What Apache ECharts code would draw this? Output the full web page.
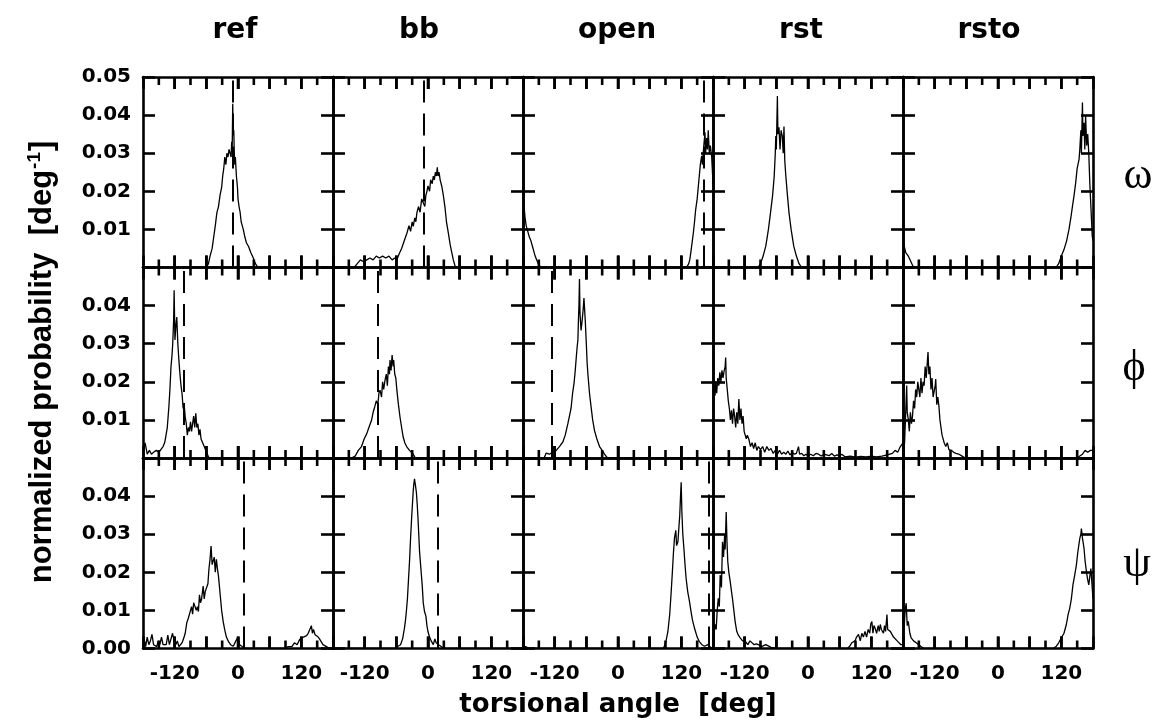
<!DOCTYPE html>
<html><head><meta charset="utf-8">
<script src="https://cdn.jsdelivr.net/npm/echarts@6/dist/echarts.min.js"></script>
<style>html,body{margin:0;padding:0;background:#fff}#c{width:1162px;height:728px}</style>
</head><body><div id="c"></div><script>
// ---------------- data ----------------
const columns = ['ref', 'bb', 'open', 'rst', 'rsto'];
const rowSymbols = ['\u03C9', '\u03D5', '\u03C8'];
const xTickLabels = [-120, 0, 120];
const xMajorTicks = [-120, -60, 0, 60, 120];
const xMinorTicks = [-150, -90, -30, 30, 90, 150];
const yTickLabels = [0.00, 0.01, 0.02, 0.03, 0.04, 0.05];
const xAxisName = 'torsional angle  [deg]';
const yAxisName = 'normalized probability  [deg';

// reference angles (dashed lines); null = none
const dashOmega = [-10, -9, 162, null, null];
const dashPhi = [-102, -95, -125, null, null];
const dashPsi = [10, 19, 172, null, null];

// omega row
const omega_ref = [[-180,0],[-60,0],[-56,0.001],[-53,0.003],[-49,0.005],[-46,0.008],[-43,0.011],[-40,0.0144],[-37,0.016],[-34,0.019],[-31,0.021],[-29,0.024],[-27,0.026],[-25,0.029],[-23,0.027],[-21,0.030],[-19,0.029],[-17,0.031],[-15,0.031],[-13,0.029],[-12,0.033],[-11,0.031],[-10,0.043],[-9,0.035],[-8,0.036],[-7,0.030],[-6,0.027],[-5,0.029],[-3,0.024],[-1,0.021],[0,0.018],[2,0.016],[4,0.0145],[6,0.012],[8,0.011],[10,0.010],[13,0.008],[16,0.0065],[20,0.0055],[24,0.004],[29,0.0025],[33,0.001],[38,0],[180,0]];
const omega_bb = [[-180,0],[-140,0],[-134,0.001],[-128,0.002],[-122,0.0015],[-116,0.002],[-110,0.0025],[-104,0.002],[-98,0.003],[-92,0.0025],[-86,0.003],[-80,0.0025],[-74,0.003],[-68,0.002],[-63,0.0025],[-59,0.002],[-55,0.0035],[-50,0.005],[-45,0.007],[-40,0.009],[-36,0.011],[-33,0.0095],[-30,0.012],[-28,0.0108],[-25,0.013],[-23,0.012],[-21,0.0144],[-18,0.016],[-15,0.0145],[-12,0.018],[-9,0.0175],[-6,0.016],[-4,0.019],[-2,0.020],[0,0.0214],[3,0.020],[5,0.023],[8,0.022],[10,0.024],[12,0.023],[14,0.025],[16,0.024],[17.6,0.0263],[19,0.024],[21,0.025],[23,0.023],[26,0.0214],[29,0.019],[32,0.016],[35,0.012],[38.5,0.0091],[42,0.006],[45,0.004],[48,0.002],[52,0],[180,0]];
const omega_open = [[-180,0.021],[-178,0.016],[-176,0.013],[-174,0.011],[-171,0.0095],[-168,0.008],[-165,0.007],[-162,0.0055],[-160,0.005],[-157,0.003],[-154,0.002],[-151,0.001],[-146,0],[130,0],[134,0.001],[136,0.002],[139,0.005],[142.7,0.009],[145,0.012],[147,0.015],[150,0.018],[152,0.021],[154,0.024],[156,0.027],[158.5,0.0293],[160,0.027],[162,0.031],[164.8,0.0355],[166,0.030],[168,0.034],[169.5,0.031],[171,0.036],[173,0.030],[175,0.032],[177.5,0.029],[179,0.025],[180,0.022]];
const omega_rst = [[-180,0],[-95,0],[-90,0.001],[-85,0.003],[-80,0.0056],[-75,0.010],[-71,0.0144],[-67,0.019],[-64,0.024],[-62,0.030],[-61,0.0345],[-60,0.031],[-59,0.038],[-58,0.045],[-57,0.035],[-55,0.0368],[-53,0.031],[-51,0.036],[-48.7,0.0345],[-47,0.030],[-45.5,0.037],[-44,0.028],[-42,0.024],[-39,0.019],[-36,0.0144],[-32,0.010],[-27,0.0056],[-22,0.003],[-17,0.001],[-12,0],[180,0]];
const omega_rsto = [[-180,0.007],[-175,0.004],[-170,0.003],[-165,0.0015],[-160,0],[110,0],[115,0.001],[120,0.003],[125,0.0047],[130,0.007],[134.5,0.010],[138,0.013],[141,0.016],[144,0.0188],[147,0.022],[150,0.026],[153.6,0.0284],[155,0.031],[157,0.036],[158,0.030],[160,0.0433],[161,0.0345],[163,0.038],[164.5,0.031],[166,0.0398],[168,0.032],[170,0.035],[172,0.030],[174,0.022],[176,0.016],[178.6,0.0082],[180,0.007]];

// phi row
const phi_ref = [[-180,0.001],[-176,0.004],[-172,0.001],[-168,0.002],[-164,0.001],[-160,0.0015],[-155,0.002],[-150,0.0015],[-147,0.002],[-142,0.003],[-139,0.004],[-137,0.0055],[-134,0.008],[-131,0.0134],[-129,0.018],[-127,0.0239],[-125,0.027],[-123.7,0.030],[-122,0.036],[-121,0.044],[-119.5,0.031],[-117.5,0.035],[-116,0.037],[-114,0.030],[-112,0.0257],[-110,0.022],[-108,0.019],[-106,0.0169],[-104,0.013],[-102,0.014],[-100,0.0107],[-98,0.009],[-96,0.006],[-94,0.008],[-92,0.007],[-90,0.0095],[-88,0.007],[-86,0.009],[-84,0.011],[-82,0.008],[-80,0.0117],[-78,0.008],[-76,0.009],[-74,0.006],[-72,0.0075],[-70,0.005],[-67,0.0055],[-64,0.003],[-61,0.002],[-58,0.001],[-55,0],[180,0]];
const phi_bb = [[-180,0],[-145,0],[-138,0.0005],[-132,0.002],[-126,0.003],[-121,0.005],[-116,0.0064],[-112,0.008],[-107,0.0099],[-104,0.012],[-101,0.0134],[-98,0.015],[-95,0.014],[-93,0.017],[-91,0.0178],[-88,0.016],[-86,0.020],[-84,0.018],[-81.5,0.0204],[-79,0.022],[-77,0.019],[-75,0.024],[-73,0.022],[-72,0.0257],[-70,0.023],[-68,0.027],[-66,0.024],[-65,0.0257],[-63,0.022],[-61,0.021],[-59,0.0178],[-56,0.014],[-53,0.0107],[-50,0.008],[-47,0.0055],[-44,0.004],[-40.5,0.003],[-35,0.002],[-28,0.001],[-24,0],[180,0]];
const phi_open = [[-180,0],[-140,0],[-136,0.0013],[-130,0.001],[-124,0.0015],[-117,0.002],[-111,0.003],[-104.5,0.0042],[-100,0.006],[-95,0.009],[-92,0.011],[-89,0.013],[-86,0.017],[-83,0.020],[-81,0.023],[-79,0.0265],[-77.5,0.029],[-76,0.031],[-75,0.036],[-74,0.040],[-73,0.047],[-72,0.038],[-70,0.0335],[-68,0.036],[-66,0.039],[-64.5,0.042],[-63.5,0.042],[-62,0.036],[-60,0.030],[-58.5,0.025],[-57,0.022],[-54,0.017],[-51,0.0134],[-48,0.010],[-44.5,0.0072],[-40,0.005],[-35,0.003],[-30,0.002],[-25.6,0.001],[-20,0],[180,0]];
const phi_rst = [[-180,0.012],[-178,0.018],[-176,0.0164],[-175,0.020],[-173,0.017],[-171,0.021],[-169,0.019],[-167,0.0225],[-165,0.020],[-163,0.023],[-161,0.021],[-159,0.0228],[-157,0.024],[-156,0.0264],[-155,0.021],[-153,0.018],[-151,0.015],[-149,0.013],[-147,0.010],[-145,0.0125],[-143,0.009],[-141,0.013],[-139,0.011],[-137,0.008],[-135,0.012],[-133,0.009],[-131,0.0155],[-129,0.010],[-127,0.013],[-125,0.009],[-123,0.011],[-121,0.007],[-119,0.0075],[-117,0.005],[-115,0.006],[-112,0.0049],[-109,0.003],[-106,0.004],[-103,0.0025],[-100,0.004],[-97,0.002],[-94,0.003],[-90,0.0022],[-86,0.003],[-82,0.0015],[-78,0.003],[-74,0.002],[-70,0.0025],[-66,0.0012],[-62,0.002],[-58,0.001],[-54,0.002],[-50,0.001],[-46,0.0015],[-42,0.001],[-38,0.0018],[-34,0.0008],[-30,0.0015],[-26,0.001],[-22,0.0012],[-18,0.003],[-16,0.001],[-12,0.0012],[-8,0.0006],[-4,0.001],[0,0.0005],[5,0.001],[10,0.0006],[15,0.0012],[20,0.001],[25,0.0005],[30,0.001],[35,0.0008],[40,0.0006],[45,0.0012],[50,0.0005],[55,0.0008],[60,0.0005],[64,0.001],[70,0.0003],[80,0.0005],[90,0.0002],[100,0.0004],[110,0.0003],[120,0.0005],[130,0.0003],[140,0.0005],[150,0.0008],[160,0.0012],[165,0.002],[170,0.0015],[175,0.003],[180,0.004]];
const phi_rsto = [[-180,0.002],[-177,0.004],[-175,0.004],[-173,0.019],[-172,0.012],[-170,0.0102],[-168,0.007],[-166,0.012],[-164,0.009],[-162,0.011],[-160,0.015],[-158,0.013],[-156,0.018],[-154,0.016],[-152,0.020],[-150,0.0199],[-148,0.016],[-146,0.021],[-144,0.017],[-142,0.020],[-140,0.019],[-138,0.024],[-136,0.021],[-134,0.025],[-132.6,0.0278],[-131,0.022],[-129,0.024],[-127,0.018],[-125,0.021],[-123,0.016],[-121,0.0164],[-119,0.019],[-118,0.0207],[-116,0.014],[-114,0.016],[-112,0.0137],[-110,0.010],[-108,0.008],[-106,0.006],[-104,0.005],[-102,0.004],[-99,0.003],[-96,0.004],[-93,0.0022],[-88,0.002],[-84,0.0015],[-80,0.0012],[-74,0.001],[-68,0.0005],[-62,0],[150,0],[155,0.0005],[160,0.001],[165,0.002],[170,0.0015],[175,0.002],[180,0.002]];

// psi row
const psi_ref = [[-180,0.001],[-177,0.002],[-175,0.0005],[-172,0.003],[-169,0.001],[-166,0.002],[-163,0.0037],[-160,0.001],[-157,0.0015],[-154,0.0005],[-151,0.002],[-148,0.001],[-145,0.003],[-142,0.001],[-139,0.0005],[-136,0.001],[-133,0.0035],[-130,0.001],[-127,0.0025],[-124,0.004],[-121,0.002],[-118,0.001],[-115,0.002],[-112,0.0005],[-109,0.001],[-106,0.0015],[-103.5,0.0024],[-100,0.004],[-97,0.0068],[-94,0.008],[-91,0.0095],[-88,0.011],[-86,0.009],[-84,0.012],[-81.5,0.0124],[-79,0.010],[-77,0.011],[-75,0.0097],[-73,0.0141],[-71,0.012],[-69,0.013],[-66,0.0164],[-64,0.013],[-62,0.015],[-60,0.0146],[-57,0.017],[-55,0.021],[-53,0.0234],[-51,0.0269],[-49,0.022],[-47,0.0216],[-45,0.024],[-43,0.020],[-41,0.0234],[-39,0.021],[-37,0.019],[-35,0.016],[-33,0.013],[-31,0.010],[-28,0.007],[-25,0.0048],[-22,0.003],[-18,0.0018],[-14,0.001],[-9,0.0006],[-4,0.002],[0,0.003],[3,0.001],[8,0.0005],[15,0],[90,0],[95,0.0005],[98,0.001],[102,0.0005],[107,0.0015],[112,0.001],[117,0.0024],[120,0.002],[124,0.003],[127,0.0025],[130,0.0034],[133,0.004],[136,0.0045],[139,0.006],[141,0.004],[143,0.005],[146,0.0036],[149,0.004],[152,0.003],[155,0.0024],[158,0.002],[161,0.001],[164.5,0.0006],[170,0.0003],[175,0],[180,0]];
const psi_bb = [[-180,0],[-60,0],[-57,0.0006],[-52,0.001],[-48,0.0026],[-45,0.005],[-43,0.007],[-41,0.0097],[-39,0.013],[-37,0.018],[-35,0.0229],[-33,0.029],[-31,0.0343],[-29,0.039],[-28,0.0413],[-27,0.043],[-25.6,0.0445],[-24,0.043],[-22,0.041],[-20.5,0.038],[-19,0.0343],[-17.5,0.030],[-16,0.0255],[-13.5,0.021],[-11,0.0167],[-9,0.012],[-6.6,0.0097],[-4,0.0085],[-2,0.006],[0,0.0044],[3,0.003],[6,0.002],[10,0.001],[13,0.0025],[15.5,0.0015],[20,0.001],[25,0.0005],[30,0],[180,0]];
const psi_open = [[-180,0],[-175,0.0005],[-168,0],[85,0],[88,0.0006],[91,0.002],[94.5,0.0044],[98,0.009],[100.8,0.0149],[103,0.020],[105,0.025],[107,0.029],[109.5,0.031],[111,0.027],[113.5,0.028],[115,0.031],[117,0.035],[118.5,0.040],[119.7,0.0436],[121,0.036],[122.8,0.030],[125,0.026],[127,0.022],[129,0.0185],[132,0.015],[135.5,0.0123],[138,0.010],[141,0.0075],[145,0.0053],[150,0.003],[154,0.0018],[159,0.001],[164,0.0006],[170,0.001],[175,0.0004],[180,0]];
const psi_rst = [[-180,0.001],[-178,0.0015],[-176,0.0063],[-174,0.005],[-172,0.010],[-170,0.0132],[-168,0.011],[-166.4,0.0193],[-164,0.016],[-162,0.028],[-160,0.024],[-158,0.0297],[-157,0.026],[-155,0.0358],[-153.5,0.028],[-152,0.0228],[-150,0.020],[-147.4,0.0176],[-145,0.015],[-143,0.013],[-141,0.0106],[-138,0.007],[-135,0.0045],[-132,0.0035],[-128.5,0.0028],[-124,0.002],[-119,0.0019],[-114,0.001],[-110,0.002],[-106.5,0.0015],[-102,0.001],[-98,0.0012],[-94,0.001],[-88,0.0005],[-80,0.001],[-70,0.0003],[-60,0],[75,0],[80,0.0008],[83,0.0015],[86,0.001],[89,0.002],[92,0.003],[95.7,0.0037],[99,0.002],[102,0.004],[105,0.003],[108,0.0045],[111,0.003],[114,0.005],[117,0.004],[119,0.0065],[121,0.0071],[123,0.004],[125,0.006],[127,0.0054],[130,0.004],[133,0.006],[135,0.0045],[137,0.0063],[139,0.005],[141,0.0055],[143,0.004],[145,0.006],[147,0.0045],[149.6,0.0089],[151,0.005],[153,0.0055],[156,0.0045],[159,0.004],[162,0.003],[165.7,0.0028],[169,0.002],[172,0.0015],[176,0.001],[180,0.001]];
const psi_rsto = [[-180,0.008],[-178,0.005],[-176,0.010],[-174,0.0119],[-172,0.006],[-170,0.0071],[-167,0.004],[-164.6,0.0028],[-160,0.002],[-155,0.0015],[-150,0.001],[-146,0.0005],[-140,0],[105,0],[110.5,0.0006],[115,0.0015],[120,0.0028],[125,0.004],[129.5,0.0063],[133,0.009],[136,0.0106],[139,0.013],[142,0.0167],[145,0.019],[148.5,0.0219],[151,0.025],[153,0.027],[155,0.0289],[157,0.030],[158,0.0315],[160,0.029],[163,0.0263],[165,0.023],[167.5,0.0202],[170,0.018],[172,0.0167],[174,0.019],[176,0.021],[178,0.017],[180,0.013]];

const panelData = [
  [omega_ref, omega_bb, omega_open, omega_rst, omega_rsto],
  [phi_ref, phi_bb, phi_open, phi_rst, phi_rsto],
  [psi_ref, psi_bb, psi_open, psi_rst, psi_rsto]
];
const dashes = [dashOmega, dashPhi, dashPsi];

// ---------------- layout ----------------
const GL = 143, GT = 77, GW = 190, GH = 190.5;
const Y_MAX = 0.05;
const BLACK = '#000';
const LW = 2.6;
const MAJOR_LEN = 12, MINOR_LEN = 8;   // tick lengths in px
const titleX = [235, 419, 617, 801, 989];
const symbolPos = [[1138, 176], [1134, 368], [1137, 564]];

const grids = [], xAxes = [], yAxes = [], series = [];
const tickFont = {fontFamily: 'DejaVu Sans', fontWeight: 'bold', fontSize: 20, color: BLACK};

// inward x ticks on bottom and top edges, built from the tick value arrays;
// segments separated by empty points so each tick is its own stroke
function xTickPath() {
  const perPx = Y_MAX / GH;
  const out = [];
  xMajorTicks.concat(xMinorTicks).forEach(v => {
    const len = (xMajorTicks.indexOf(v) >= 0 ? MAJOR_LEN : MINOR_LEN) * perPx;
    out.push([v, 0], [v, len], [v, '-']);
    out.push([v, Y_MAX - len], [v, Y_MAX], [v, '-']);
  });
  return out;
}
const tickPath = xTickPath();

for (let r = 0; r < 3; r++) {
  for (let c = 0; c < 5; c++) {
    const idx = r * 5 + c;
    grids.push({left: GL + c * GW, top: GT + r * GH, width: GW, height: GH, containLabel: false, outerBoundsMode: 'none'});
    const xBase = {
      type: 'value', gridIndex: idx, min: -180, max: 180, interval: 60,
      axisLine: {show: true, onZero: false, lineStyle: {color: BLACK, width: LW}},
      axisTick: {show: true, inside: true, length: MAJOR_LEN, lineStyle: {color: BLACK, width: LW}},
      splitLine: {show: false}
    };
    xAxes.push(Object.assign({}, xBase, {
      position: 'bottom',
      axisLabel: Object.assign({show: r === 2, margin: 15,
        formatter: v => xTickLabels.indexOf(Math.round(v)) >= 0 ? String(Math.round(v)) : ''}, tickFont)
    }));
    xAxes.push(Object.assign({}, xBase, {position: 'top', axisLabel: {show: false}}));
    const yBase = {
      type: 'value', gridIndex: idx, min: 0, max: Y_MAX, interval: 0.01,
      axisLine: {show: true, onZero: false, lineStyle: {color: BLACK, width: LW}},
      axisTick: {show: true, inside: true, length: MAJOR_LEN, lineStyle: {color: BLACK, width: LW}},
      splitLine: {show: false}
    };
    yAxes.push(Object.assign({}, yBase, {
      position: 'left',
      axisLabel: Object.assign({show: c === 0, margin: 12,
        formatter: v => {
          if (r === 0 && v < 0.005) return '';
          if (r === 1 && (v < 0.005 || v > 0.045)) return '';
          if (r === 2 && v > 0.045) return '';
          const t = yTickLabels.find(q => Math.abs(q - v) < 1e-6);
          return t === undefined ? '' : t.toFixed(2);
        }}, tickFont)
    }));
    yAxes.push(Object.assign({}, yBase, {position: 'right', axisLabel: {show: false}}));

    const d = dashes[r][c];
    const s = {
      type: 'line', xAxisIndex: 2 * idx, yAxisIndex: 2 * idx,
      data: panelData[r][c], showSymbol: false, symbol: 'none',
      lineStyle: {color: BLACK, width: 1.3}, silent: true
    };
    if (d !== null) {
      s.markLine = {
        silent: true, symbol: ['none', 'none'], label: {show: false},
        lineStyle: {color: BLACK, type: [22, 11], width: 2},
        emphasis: {disabled: true},
        data: [{xAxis: d}]
      };
    }
    series.push(s);
    series.push({
      type: 'line', xAxisIndex: 2 * idx, yAxisIndex: 2 * idx,
      data: tickPath, showSymbol: false, symbol: 'none', connectNulls: false,
      lineStyle: {color: BLACK, width: LW, cap: 'butt'}, silent: true, clip: false, z: 3
    });
  }
}

const graphic = [];
columns.forEach((t, i) => graphic.push({
  type: 'text', x: titleX[i], y: 31,
  style: {text: t, fontFamily: 'DejaVu Sans', fontWeight: 'bold', fontSize: 28, fill: BLACK,
    align: 'center', verticalAlign: 'middle', textAlign: 'center', textVerticalAlign: 'middle'}
}));
rowSymbols.forEach((t, i) => graphic.push({
  type: 'text', x: symbolPos[i][0], y: symbolPos[i][1],
  style: {text: t, fontFamily: '"Liberation Serif", "DejaVu Serif"', fontSize: 44, fill: BLACK,
    align: 'center', verticalAlign: 'middle', textAlign: 'center', textVerticalAlign: 'middle'}
}));
graphic.push({
  type: 'text', x: 618, y: 705,
  style: {text: xAxisName, fontFamily: 'DejaVu Sans', fontWeight: 'bold', fontSize: 26, fill: BLACK,
    align: 'center', verticalAlign: 'middle', textAlign: 'center', textVerticalAlign: 'middle'}
});
graphic.push({
  type: 'text', x: 42, y: 362, rotation: Math.PI / 2,
  style: {text: yAxisName + '{sup|-1}]', fontFamily: 'Liberation Sans', fontWeight: 'bold', fontSize: 31, fill: BLACK,
    align: 'center', verticalAlign: 'middle', textAlign: 'center', textVerticalAlign: 'middle',
    rich: {sup: {fontFamily: 'Liberation Sans', fontWeight: 'bold', fontSize: 19, fill: BLACK, verticalAlign: 'top', padding: [0, 1, 14, 1]}}}
});

const chart = echarts.init(document.getElementById('c'), null, {renderer: 'canvas', width: 1162, height: 728});
chart.setOption({
  animation: false,
  backgroundColor: '#fff',
  textStyle: {fontFamily: 'DejaVu Sans'},
  grid: grids, xAxis: xAxes, yAxis: yAxes, series: series, graphic: graphic
});
</script></body></html>
